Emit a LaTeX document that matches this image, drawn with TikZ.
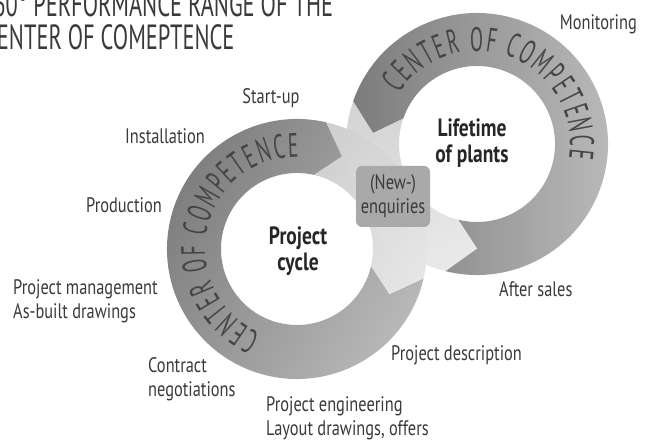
\documentclass[tikz,border=0pt]{standalone}
\usepackage{fontspec}
\setmainfont{PT Sans}[FakeStretch=0.78]
\newfontfamily\capsfont{PT Sans}[FakeStretch=0.64]
\newfontfamily\ringfamily{PT Sans}[FakeStretch=0.56]
\usetikzlibrary{decorations.text}

\definecolor{labelgray}{HTML}{3A3A3A}
\definecolor{ringtext}{HTML}{454545}
\definecolor{darkA}{HTML}{7C7C7C}
\definecolor{darkB}{HTML}{B8B8B8}
\definecolor{lightA}{HTML}{D0D0D0}
\definecolor{lightB}{HTML}{E6E6E6}
\definecolor{boxgray}{HTML}{A9A9A9}

\newcommand\ringfont{\ringfamily\fontsize{34}{34}\selectfont}

\begin{document}
\begin{tikzpicture}[x=1pt, y=1pt,
    steplabel/.style={font=\fontsize{21}{24}\selectfont, text=labelgray, inner sep=0pt},
    corelabel/.style={font=\fontsize{25}{26}\selectfont\bfseries, text=black!85, inner sep=0pt, align=center},
    headline/.style={font=\capsfont\fontsize{35}{33}\selectfont, text=labelgray, inner sep=0pt},
    enqbox/.style={fill=boxgray, rounded corners=6pt, minimum width=74pt, minimum height=61pt,
      inner sep=0pt, align=center, font=\fontsize{21}{24}\selectfont, text=labelgray},
    ringword/.style={decorate, decoration={text along path, text align=fit to path,
      text color=ringtext, text={|\ringfont|CENTER OF COMPETENCE}}}]
  \useasboundingbox (0,0) rectangle (645,443);
  \clip (0,0) rectangle (645,443);

  % left ring, running clockwise
  \begin{scope}[shift={(297,194)}]
    \shade[left color=darkA, right color=darkB, shading angle=60]
      (-13:130) arc[start angle=-13, end angle=-283, radius=130] -- (-296:103)
      -- (-283:76) arc[start angle=-283, end angle=-13, radius=76] -- (-26:103) -- cycle;
    \shade[left color=lightA, right color=lightB, shading angle=60]
      (77:130) arc[start angle=77, end angle=-13, radius=130] -- (-26:103)
      -- (-13:76) arc[start angle=-13, end angle=77, radius=76] -- (64:103) -- cycle;
    \path[ringword] (-113:92) arc[start angle=-113, end angle=-271, radius=92];
  \end{scope}

  % right ring, running counterclockwise
  \begin{scope}[shift={(477,299)}]
    \shade[left color=darkA, right color=darkB!95]
      (256:131) arc[start angle=256, end angle=521, radius=131] -- (534:104.5)
      -- (521:78) arc[start angle=521, end angle=256, radius=78] -- (270:104.5) -- cycle;
    \shade[left color=lightA, right color=lightB, shading angle=20, opacity=0.9]
      (161:131) arc[start angle=161, end angle=256, radius=131] -- (270:104.5)
      -- (256:78) arc[start angle=256, end angle=161, radius=78] -- (174:104.5) -- cycle;
    \path[ringword] (147:93) arc[start angle=147, end angle=-9, radius=93];
  \end{scope}

  % title
  \node[headline, anchor=base west] (title1) at (-19,426) {360° PERFORMANCE RANGE OF THE};
  \node[headline, anchor=base west] (title2) at (-16,393) {CENTER OF COMEPTENCE};

  % centres
  \node[corelabel] (cycle) at (298,192) {Project\\cycle};
  \node[corelabel] (plants) at (472,300) {Lifetime\\of plants};
  \node[enqbox] (enq) at (393,246.5) {(New-)\\enquiries};

  % steps round the rings
  \node[steplabel, anchor=base east] (monitor) at (637,413) {Monitoring};
  \node[steplabel, anchor=base] (startup) at (271,339) {Start-up};
  \node[steplabel, anchor=base east] (install) at (205,299) {Installation};
  \node[steplabel, anchor=base east] (product) at (162,230) {Production};
  \node[steplabel, align=left, anchor=north west] (manage) at (13,164) {Project management\\As-built drawings};
  \node[steplabel, align=left, anchor=north west] (contract) at (148,86) {Contract\\negotiations};
  \node[steplabel, align=left, anchor=north west] (engineer) at (266,47) {Project engineering\\Layout drawings, offers};
  \node[steplabel, anchor=base west] (descr) at (391,82) {Project description};
  \node[steplabel, anchor=base west] (aftersales) at (499,146) {After sales};
\end{tikzpicture}
\end{document}
